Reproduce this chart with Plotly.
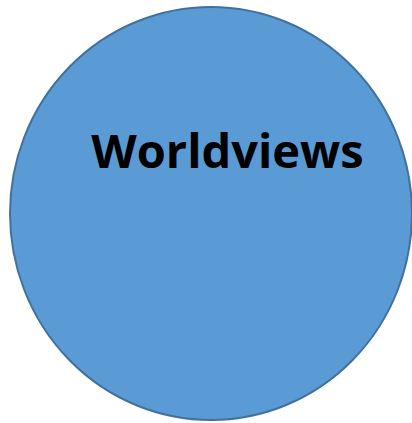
import plotly.graph_objects as go

# Diagram data
labels = ["Worldviews"]
circle_center = [211, 213.5]
circle_radius = [201, 206.5]
label_pos = [227.5, 156]

W, H = 412, 423

fig = go.Figure()
fig.add_shape(
    type="circle", xref="x", yref="y",
    x0=circle_center[0] - circle_radius[0], x1=circle_center[0] + circle_radius[0],
    y0=circle_center[1] - circle_radius[1], y1=circle_center[1] + circle_radius[1],
    fillcolor="#5B9BD5", line=dict(color="#41719C", width=2), layer="below",
)
fig.add_trace(go.Scatter(
    x=[label_pos[0]], y=[label_pos[1]], mode="text", text=[f"<b>{labels[0]}</b>"],
    textfont=dict(family="Open Sans", size=47, color="#000000"), textposition="middle center",
    hoverinfo="skip", showlegend=False,
))
fig.update_xaxes(range=[0, W], visible=False, fixedrange=True)
fig.update_yaxes(range=[H, 0], visible=False, fixedrange=True)
fig.update_layout(
    width=W, height=H, margin=dict(l=0, r=0, t=0, b=0),
    paper_bgcolor="white", plot_bgcolor="white", showlegend=False,
)
fig.write_html("out.html", config={"displayModeBar": False},
               post_script="document.body.style.margin='0';")
